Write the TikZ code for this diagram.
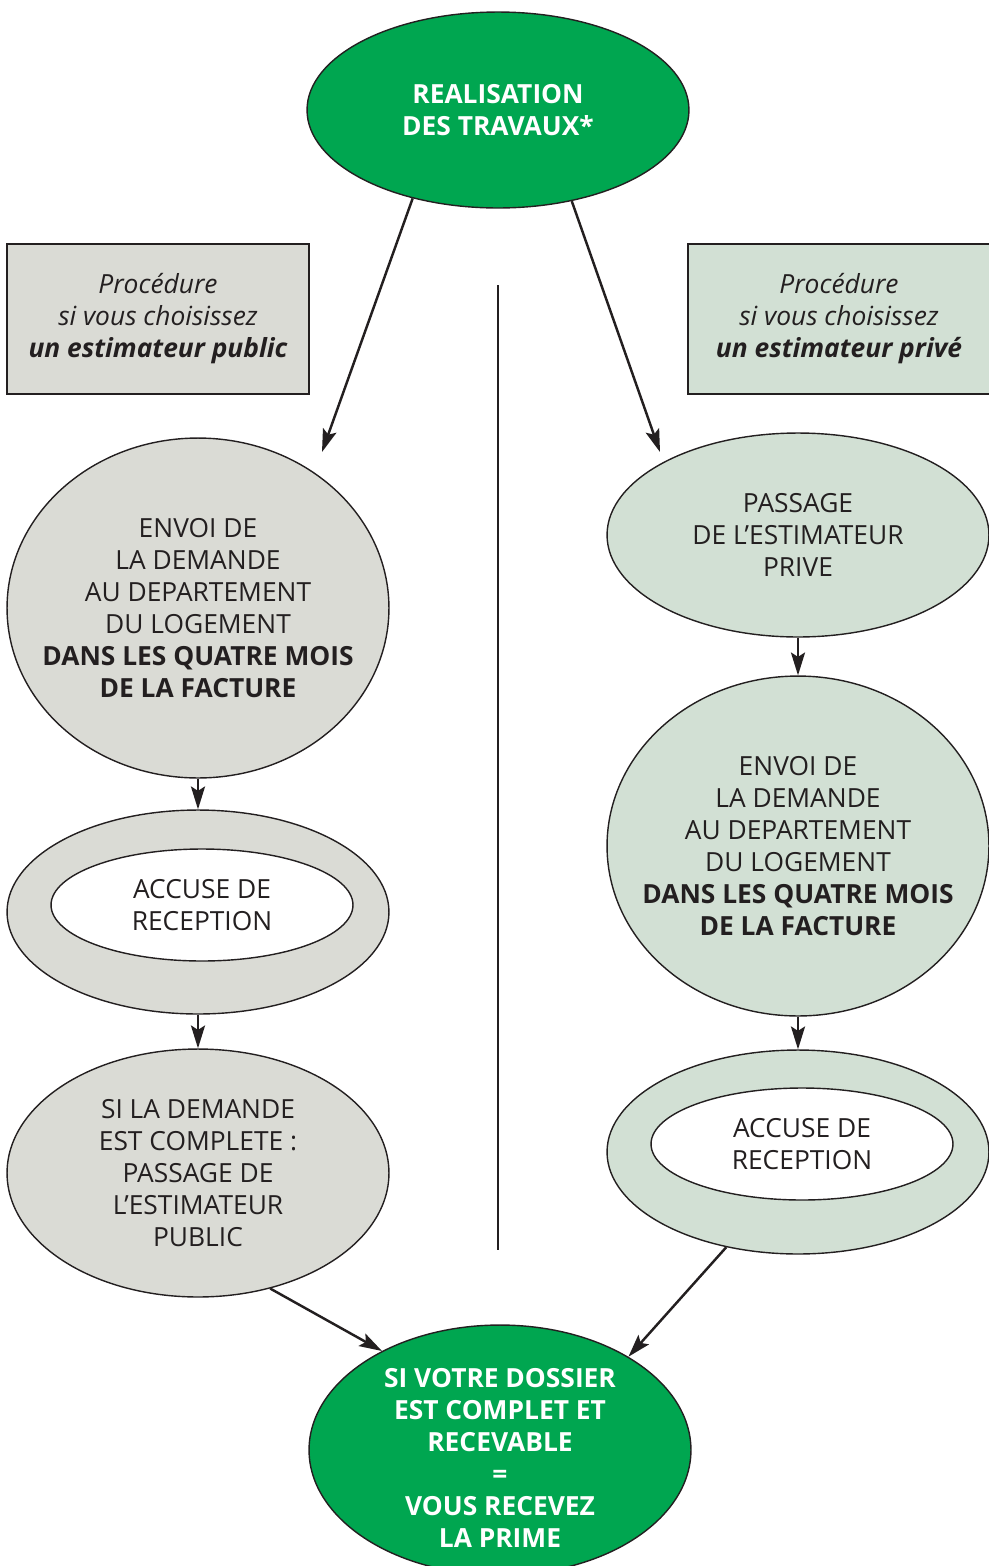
\documentclass[tikz,border=0pt]{standalone}
\usepackage{fontspec}
\setmainfont{Open Sans}
\usetikzlibrary{shapes,arrows,arrows.meta,calc,positioning}

\definecolor{vert}{RGB}{0,166,80}
\definecolor{grisclair}{RGB}{218,219,213}
\definecolor{vertclair}{RGB}{210,224,212}
\definecolor{encre}{RGB}{35,31,32}

\begin{document}
\begin{tikzpicture}[x=0.02cm,y=-0.02cm,
       bulle/.style={ellipse,draw=encre,line width=0.8pt,inner sep=0pt,minimum width=7.64cm},
       texte/.style={align=center,text=encre,font=\fontsize{15}{18.2}\selectfont},
       blanc/.style={align=center,text=white,font=\fontsize{15}{18.2}\selectfont\bfseries},
       cadre/.style={draw=encre,line width=0.8pt,minimum width=6.04cm,minimum height=3cm,
                     align=center,text=encre,font=\fontsize{15}{18.2}\selectfont\itshape},
       fleche/.style={line width=1.4pt,draw=encre,-{Stealth[length=13pt,width=8pt,inset=2.5pt]}}]

       \useasboundingbox (0,0) rectangle (989,1566);

       % depart
       \node[bulle,fill=vert,minimum height=3.92cm,blanc] (real) at (498,110)
       {REALISATION\\DES TRAVAUX*};

       % les deux procedures
       \node[cadre,fill=grisclair] (boiteG) at (158,319)
       {Procédure\\si vous choisissez\\\textbf{un estimateur public}};
       \node[cadre,fill=vertclair] (boiteD) at (839,319)
       {Procédure\\si vous choisissez\\\textbf{un estimateur privé}};

       \coordinate (sepH) at (498,285);
       \coordinate (sepB) at (498,1250);
       \draw[line width=1.4pt,encre] (sepH) -- (sepB);

       % colonne gauche : estimateur public
       \node[bulle,fill=grisclair,minimum height=6.8cm,
             label={[texte]center:ENVOI DE\\LA DEMANDE\\AU DEPARTEMENT\\DU LOGEMENT\\
                    \textbf{DANS LES QUATRE MOIS}\\\textbf{DE LA FACTURE}}] (envoiG) at (198,608) {};

       \node[bulle,fill=grisclair,minimum height=4.08cm] (accG) at (198,912) {};
       \node[bulle,fill=white,minimum width=6.04cm,minimum height=2.24cm,texte] (accGi) at (202,905)
       {ACCUSE DE\\RECEPTION};

       \node[bulle,fill=grisclair,minimum height=4.96cm,texte] (siG) at (198,1173)
       {SI LA DEMANDE\\EST COMPLETE :\\PASSAGE DE\\L’ESTIMATEUR\\PUBLIC};

       % colonne droite : estimateur prive
       \node[bulle,fill=vertclair,minimum height=4.08cm,texte] (passD) at (798,535)
       {PASSAGE\\DE L’ESTIMATEUR\\PRIVE};

       \node[bulle,fill=vertclair,minimum height=6.8cm,
             label={[texte]center:ENVOI DE\\LA DEMANDE\\AU DEPARTEMENT\\DU LOGEMENT\\
                    \textbf{DANS LES QUATRE MOIS}\\\textbf{DE LA FACTURE}}] (envoiD) at (798,846) {};

       \node[bulle,fill=vertclair,minimum height=4.08cm] (accD) at (798,1152) {};
       \node[bulle,fill=white,minimum width=6.04cm,minimum height=2.24cm,texte] (accDi) at (802,1144)
       {ACCUSE DE\\RECEPTION};

       % arrivee
       \node[bulle,fill=vert,minimum height=5cm,
             label={[blanc,yshift=-0.16cm]center:SI VOTRE DOSSIER\\EST COMPLET ET\\RECEVABLE\\=\\
                    VOUS RECEVEZ\\LA PRIME}] (final) at (500,1450) {};

       % fleches
       \coordinate (pointeG) at (322,452);
       \coordinate (pointeD) at (660,452);

       \draw[fleche] (real.226) -- (pointeG);
       \draw[fleche] (real.309) -- (pointeD);
       \draw[fleche] (envoiG.south) -- (accG.north);
       \draw[fleche] (accG.south) -- (siG.north);
       \draw[fleche] (passD.south) -- (envoiD.north);
       \draw[fleche] (envoiD.south) -- (accD.north);
       \draw[fleche] (siG.-58) -- (final.140);
       \draw[fleche] (accD.233) -- (final.36);
\end{tikzpicture}
\end{document}
